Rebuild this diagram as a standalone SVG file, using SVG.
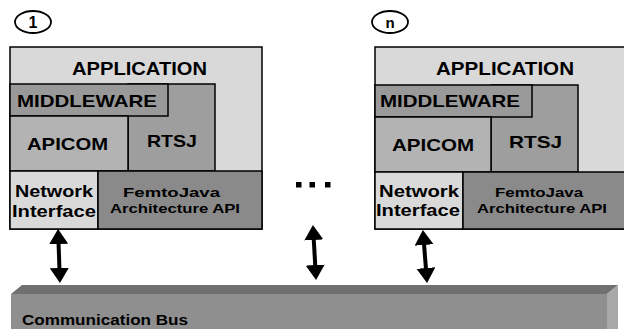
<svg xmlns="http://www.w3.org/2000/svg" width="624" height="329" viewBox="0 0 624 329">
<style>
text{font-family:"Liberation Sans",Arial,sans-serif;font-weight:bold;fill:#000}
.b{stroke:#000;stroke-width:1.5}
.light{fill:#d9d9d9}
.mw{fill:#999999}
.api{fill:#b3b3b3}
.rt{fill:#9e9e9e}
.fj{fill:#8a8a8a}
.big{font-size:18px}
.mid{font-size:17px}
.sm{font-size:13px}
.circ{fill:#fff;stroke:#000;stroke-width:1.8}
.arr{stroke:#000;stroke-width:4;fill:none;marker-start:url(#ah);marker-end:url(#ah)}
</style>
<defs>
<marker id="ah" viewBox="0 0 15 19" refX="5" refY="9.5" markerWidth="15" markerHeight="19" markerUnits="userSpaceOnUse" orient="auto-start-reverse">
<path d="M0,0 L15,9.5 L0,19 z" fill="#000"/>
</marker>
</defs>
<rect width="624" height="329" fill="#fff"/>

<g id="node1">
<ellipse class="circ" cx="33" cy="22" rx="18" ry="11"/>
<text x="33" y="28" font-size="16" text-anchor="middle">1</text>
<rect class="light b" x="10" y="47" width="252" height="182" stroke-width="2"/>
<text class="big" x="72" y="75" textLength="135" lengthAdjust="spacingAndGlyphs">APPLICATION</text>
<rect class="rt b" x="128" y="84" width="87" height="87"/>
<rect class="mw b" x="10" y="84" width="158" height="32"/>
<text class="mid" x="17" y="107" textLength="140" lengthAdjust="spacingAndGlyphs">MIDDLEWARE</text>
<rect class="api b" x="10" y="116" width="118" height="55"/>
<text class="mid" x="27" y="150" textLength="81" lengthAdjust="spacingAndGlyphs">APICOM</text>
<text class="mid" x="147" y="147" textLength="50" lengthAdjust="spacingAndGlyphs">RTSJ</text>
<rect class="light b" x="10" y="171" width="88" height="58"/>
<rect class="fj b" x="98" y="171" width="164" height="58"/>
<text class="mid" x="15" y="197" textLength="78" lengthAdjust="spacingAndGlyphs">Network</text>
<text class="mid" x="12" y="217" textLength="84" lengthAdjust="spacingAndGlyphs">Interface</text>
<text class="sm" x="123" y="197" textLength="97" lengthAdjust="spacingAndGlyphs">FemtoJava</text>
<text class="sm" x="110" y="213" textLength="130" lengthAdjust="spacingAndGlyphs">Architecture API</text>
</g>

<g id="noden">
<ellipse class="circ" cx="390" cy="22" rx="18" ry="11"/>
<text x="390" y="28" font-size="15" text-anchor="middle">n</text>
<rect class="light b" x="375" y="47" width="250" height="182" stroke-width="2"/>
<text class="big" x="436" y="75" textLength="138" lengthAdjust="spacingAndGlyphs">APPLICATION</text>
<rect class="rt b" x="491" y="85" width="87" height="87"/>
<rect class="mw b" x="375" y="85" width="157" height="32"/>
<text class="mid" x="380" y="107" textLength="140" lengthAdjust="spacingAndGlyphs">MIDDLEWARE</text>
<rect class="api b" x="375" y="117" width="116" height="55"/>
<text class="mid" x="392" y="151" textLength="82" lengthAdjust="spacingAndGlyphs">APICOM</text>
<text class="mid" x="509" y="148" textLength="53" lengthAdjust="spacingAndGlyphs">RTSJ</text>
<rect class="light b" x="375" y="172" width="88" height="57"/>
<rect class="fj b" x="463" y="172" width="162" height="57"/>
<text class="mid" x="379" y="197" textLength="80" lengthAdjust="spacingAndGlyphs">Network</text>
<text class="mid" x="376" y="216" textLength="84" lengthAdjust="spacingAndGlyphs">Interface</text>
<text class="sm" x="495" y="197" textLength="88" lengthAdjust="spacingAndGlyphs">FemtoJava</text>
<text class="sm" x="477" y="213" textLength="130" lengthAdjust="spacingAndGlyphs">Architecture API</text>
</g>

<g id="ellipsis">
<rect x="296" y="182" width="5.5" height="5.5" fill="#000"/>
<rect x="309.5" y="182" width="5.5" height="5.5" fill="#000"/>
<rect x="325" y="182" width="5.5" height="5.5" fill="#000"/>
</g>

<g id="bus">
<polygon points="11,294 22,285 618,285 607,294" fill="#707070"/>
<polygon points="607,294 618,285 618,329 607,329" fill="#a8a8a8"/>
<rect x="11" y="294" width="596" height="35" fill="#8f8f8f"/>
<text x="22" y="325" font-size="14" textLength="166" lengthAdjust="spacingAndGlyphs">Communication Bus</text>
</g>

<g id="connectors">
<line class="arr" x1="58.4" y1="239" x2="59.6" y2="273"/>
<line class="arr" x1="313.5" y1="235" x2="315.5" y2="270"/>
<line class="arr" x1="423.7" y1="240" x2="426.3" y2="273"/>
</g>
</svg>
